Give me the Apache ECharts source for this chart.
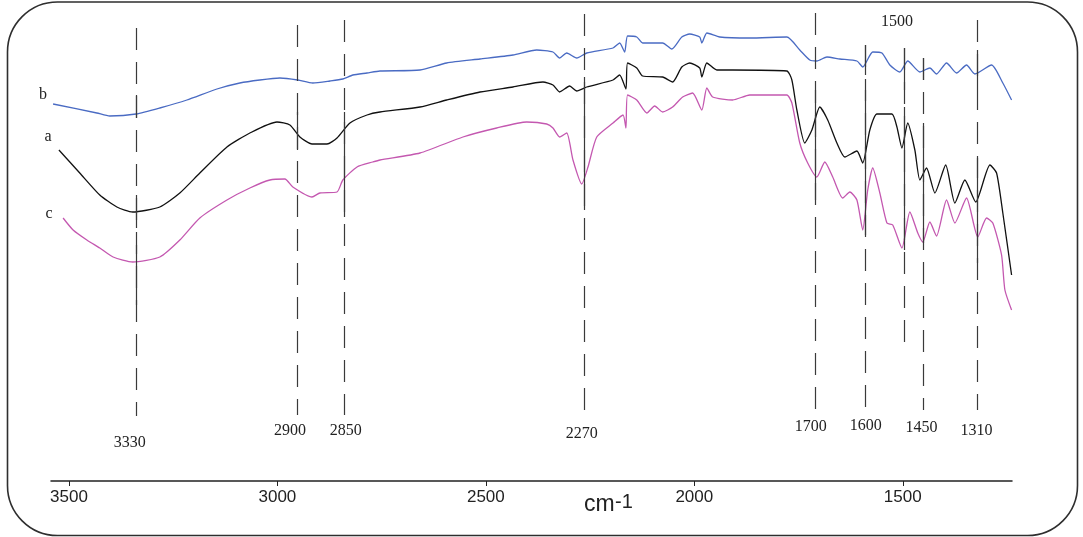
<!DOCTYPE html>
<html><head><meta charset="utf-8">
<script src="https://cdn.jsdelivr.net/npm/echarts@6/dist/echarts.min.js"></script>
<style>html,body{margin:0;padding:0;background:#fff}#c{width:1083px;height:537px}</style>
</head><body><div id="c"></div>
<script>
// ---------- DATA ----------
const tickValues = [3500, 3000, 2500, 2000, 1500];
const axisName = 'cm';
const axisNameSup = '-1';
const curveNames = ['a', 'b', 'c'];

// [wavenumber (cm-1), transmittance (arbitrary units, offset)]
const spectrumA = [
 [3524,331],[3474,308],[3426,286],[3385,274],[3347,269],[3282,274],[3234,288],[3186,308],
 [3121,334],[3066,348],[3001,359],[2970,356],[2946,344],[2917,337],[2881,337],[2857,343],
 [2826,358],[2785,366],[2754,369],[2658,374],[2594,381],[2514,389],[2435,394],[2363,399],
 [2339,396],[2323,389],[2299,395],[2282,390],[2258,394],[2195,401],[2179,406],[2164,392],
 [2160,418],[2138,413],[2124,405],[2076,404],[2052,399],[2030,414],[2011,418],[1987,413],
 [1982,404],[1970,418],[1946,411],[1908,411],[1778,410],[1766,401],[1754,371],[1735,338],
 [1718,351],[1699,374],[1680,361],[1658,338],[1639,324],[1610,330],[1596,318],[1579,351],
 [1562,367],[1526,367],[1514,354],[1502,333],[1488,358],[1471,331],[1459,301],[1443,313],
 [1423,288],[1397,316],[1375,278],[1351,301],[1325,279],[1291,316],[1275,308],[1260,268],
 [1239,206]
];
const spectrumB = [
 [3538,377],[3433,368],[3402,365],[3339,367],[3282,373],[3217,381],[3145,392],[3090,398],
 [3042,401],[2994,403],[2951,401],[2915,398],[2874,400],[2843,402],[2819,406],[2785,408],
 [2754,410],[2658,411],[2594,418],[2514,422],[2435,426],[2378,431],[2339,429],[2323,423],
 [2306,428],[2282,423],[2258,428],[2195,433],[2179,438],[2167,429],[2160,445],[2138,444],
 [2124,438],[2076,438],[2054,432],[2030,444],[2011,447],[1987,444],[1982,438],[1970,448],
 [1939,444],[1867,443],[1778,444],[1747,431],[1723,421],[1706,420],[1682,424],[1651,422],
 [1610,420],[1596,414],[1572,429],[1550,428],[1531,416],[1507,409],[1488,420],[1459,409],
 [1435,413],[1419,407],[1395,418],[1371,408],[1347,416],[1327,407],[1287,416],[1260,398],
 [1239,381]
];
const spectrumC = [
 [3514,263],[3490,251],[3457,241],[3426,233],[3394,224],[3347,219],[3282,224],[3234,241],
 [3186,263],[3121,281],[3066,293],[3018,301],[2982,302],[2963,294],[2917,284],[2898,288],
 [2857,289],[2843,301],[2809,314],[2771,319],[2754,321],[2658,328],[2555,344],[2474,353],
 [2402,359],[2354,357],[2339,353],[2323,344],[2306,348],[2291,321],[2270,297],[2255,314],
 [2234,344],[2195,358],[2171,366],[2164,353],[2160,386],[2138,381],[2114,368],[2095,375],
 [2076,369],[2052,374],[2028,384],[2004,388],[1982,371],[1970,393],[1956,384],[1908,381],
 [1867,386],[1778,386],[1766,378],[1747,338],[1728,318],[1706,304],[1687,319],[1668,304],
 [1644,283],[1627,289],[1610,281],[1596,251],[1584,291],[1572,313],[1555,288],[1538,258],
 [1524,256],[1502,233],[1483,269],[1464,248],[1452,239],[1435,259],[1419,245],[1395,281],
 [1375,258],[1347,283],[1320,244],[1299,263],[1284,258],[1263,226],[1255,191],[1239,171]
];

// peak markers: label text and the wavenumber where each marker line is drawn
const peakLabels = ['3330', '2900', '2850', '2270', '1700', '1600', '1500', '1450', '1310'];
const peakPositions = [3339, 2953, 2840, 2265, 1709, 1591, 1496, 1452, 1322];

// ---------- LAYOUT (not data) ----------
const peakLayout = [
 {dash:[453,65], solid:[[386,363],[286,253],[236,176]], lab:[3354,38]},
 {dash:[456,66], solid:[[369,331]], lab:[2970,50]},
 {dash:[461,66], solid:[[369,264]], lab:[2836,50]},
 {dash:[467,61], solid:[[404,271]], lab:[2270,47]},
 {dash:[468,71], solid:[[391,281]], lab:[1721,54]},
 {dash:[436,71], solid:[[436,406],[391,246]], lab:[1589,55]},
 {dash:[433,129], solid:[[433,391],[374,231]], lab:[1514,459]},
 {dash:[423,71], solid:[[423,401],[358,238]], lab:[1455,53]},
 {dash:[461,71], solid:[[431,393],[323,218]], lab:[1323,50]}
];

const lineColor = '#3a3a3a';
const markLineData = [];
const markPointData = [];
peakPositions.forEach((x, i) => {
  const L = peakLayout[i];
  markLineData.push([
    {coord:[x, L.dash[0]], lineStyle:{type:[22,12], color:lineColor, width:1.2}},
    {coord:[x, L.dash[1]]}
  ]);
  L.solid.forEach(s => {
    markLineData.push([
      {coord:[x, s[0]], lineStyle:{type:'solid', color:lineColor, width:1.2}},
      {coord:[x, s[1]]}
    ]);
  });
  markPointData.push({name: peakLabels[i], coord: L.lab});
});

const colors = {a:'#111111', b:'#4a6bc3', c:'#c458b0'};
const spectra = {a: spectrumA, b: spectrumB, c: spectrumC};

const chart = echarts.init(document.getElementById('c'), null, {renderer:'canvas'});
chart.setOption({
  animation: false,
  backgroundColor: '#fff',
  grid: {left: 51, right: 71, top: 1, bottom: 56},
  xAxis: {
    type: 'value', inverse: true, min: 1238, max: 3543,
    axisLine: {show: true, lineStyle: {color: '#222', width: 1.5}},
    axisTick: {show: true, length: 5, lineStyle: {color: '#222', width: 1}, customValues: tickValues},
    axisLabel: {customValues: tickValues, formatter: v => String(v),
                fontFamily: 'Liberation Sans, Arial', fontSize: 17, color: '#222', margin: 8},
    splitLine: {show: false}
  },
  yAxis: {type: 'value', min: 0, max: 480, show: false},
  series: curveNames.map((n, k) => {
    const s = {
      name: n, type: 'line', data: spectra[n], symbol: 'none', smooth: 0.2,
      lineStyle: {color: colors[n], width: 1.3}, z: 3, silent: true
    };
    if (k === 0) {
      s.markLine = {
        silent: true, symbol: ['none','none'], label: {show: false}, animation: false,
        data: markLineData
      };
      s.markPoint = {
        silent: true, symbol: 'circle', symbolSize: 1, itemStyle: {color: 'rgba(0,0,0,0)'},
        label: {show: true, position: 'inside', formatter: '{b}', color: '#222',
                fontFamily: 'Liberation Serif, Times New Roman', fontSize: 16},
        data: markPointData
      };
    }
    return s;
  }),
  graphic: [
    {type: 'rect', shape: {x: 7.5, y: 2, width: 1070, height: 533.5, r: 50},
     style: {fill: 'none', stroke: '#2e2e2e', lineWidth: 1.6}, silent: true, z: 10},
    {type: 'text', x: 43, y: 95, style: {text: 'b', fontFamily: 'Liberation Serif', fontSize: 16, fill: '#222', align: 'center', verticalAlign: 'middle'}},
    {type: 'text', x: 48, y: 137, style: {text: 'a', fontFamily: 'Liberation Serif', fontSize: 16, fill: '#222', align: 'center', verticalAlign: 'middle'}},
    {type: 'text', x: 49, y: 214, style: {text: 'c', fontFamily: 'Liberation Serif', fontSize: 16, fill: '#222', align: 'center', verticalAlign: 'middle'}},
    {type: 'text', x: 584, y: 505, style: {text: axisName, fontFamily: 'Liberation Sans', fontSize: 23, fill: '#222', align: 'left', verticalAlign: 'middle'}},
    {type: 'text', x: 615, y: 502, style: {text: axisNameSup, fontFamily: 'Liberation Sans', fontSize: 20, fill: '#222', align: 'left', verticalAlign: 'middle'}}
  ]
});
</script>
</body></html>
